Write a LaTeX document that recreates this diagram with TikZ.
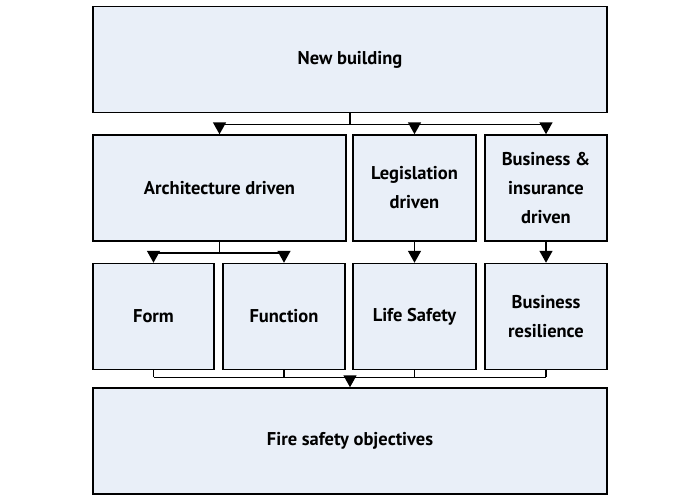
\documentclass[tikz,border=0pt]{standalone}
\usepackage{fontspec}
\setmainfont{PT Sans}
\usetikzlibrary{arrows.meta}
\definecolor{boxfill}{HTML}{E9EFF8}

\begin{document}
\begin{tikzpicture}[x=1pt,y=-1pt,line width=1.5pt,
    block/.style={draw=black,fill=boxfill,align=center,inner sep=0pt,
        minimum height=106pt,font=\fontsize{18.5}{29}\selectfont\bfseries},
    flow/.style={-{Triangle[width=13pt,length=12pt]}}]
    \useasboundingbox (0,0) rectangle (700,500);
    % top and bottom
    \node [block,minimum width=514pt] (newb) at (350,59.5) {New building};
    \node [block,minimum width=514pt] (fire) at (350,441) {Fire safety objectives};
    % drivers
    \node [block,minimum width=253pt] (arch) at (219.5,188) {Architecture driven};
    \node [block,minimum width=123pt] (legis) at (414.5,188) {Legislation\\driven};
    \node [block,minimum width=122pt] (busi) at (546,188) {Business \&\\insurance\\driven};
    % aims
    \node [block,minimum width=121pt] (form) at (153.5,316.5) {Form};
    \node [block,minimum width=122pt] (func) at (284,316.5) {Function};
    \node [block,minimum width=123pt] (life) at (414.5,316.5) {Life Safety};
    \node [block,minimum width=122pt] (resil) at (546,316.5) {Business\\resilience};
    % new building splits
    \draw (newb.south) -- ++(0,11) coordinate (splitA);
    \draw (splitA -| arch) -- (splitA -| busi);
    \draw [flow] (splitA -| arch) -- (arch.north);
    \draw [flow] (splitA -| legis) -- (legis.north);
    \draw [flow] (splitA -| busi) -- (busi.north);
    % architecture splits
    \draw (arch.south) -- ++(0,11) coordinate (splitB);
    \draw (splitB -| form) -- (splitB -| func);
    \draw [flow] (splitB -| form) -- (form.north);
    \draw [flow] (splitB -| func) -- (func.north);
    \draw [flow] (legis) -- (life);
    \draw [flow] (busi) -- (resil);
    % join into objectives
    \path (fire.north) ++(0,-10) coordinate (join);
    \foreach \n in {form,func,life,resil}
        \draw (\n.south) -- (join -| \n);
    \draw (join -| form) -- (join -| resil);
    \draw [flow] (join) -- (fire.north);
\end{tikzpicture}
\end{document}
